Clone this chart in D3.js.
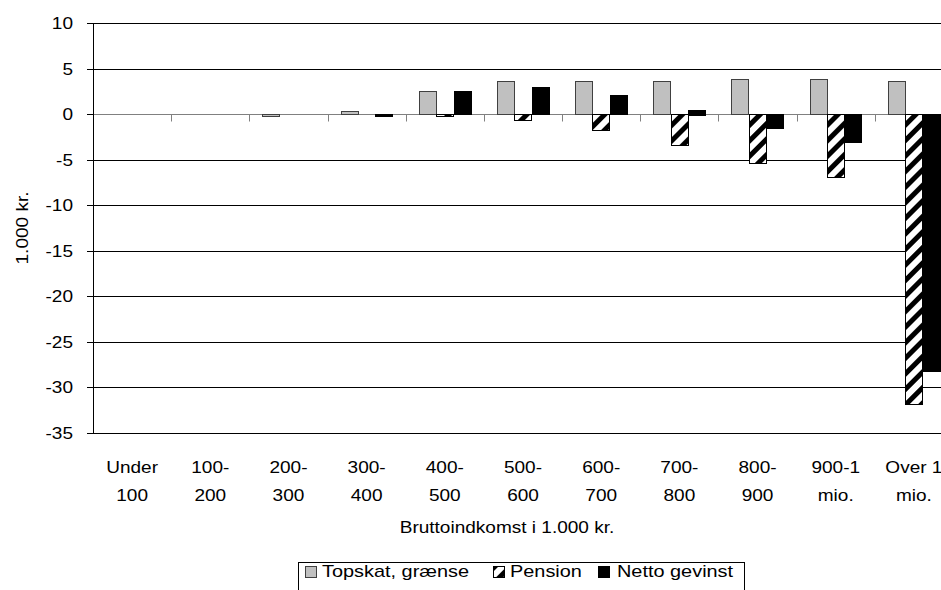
<!DOCTYPE html>
<html>
<head>
<meta charset="utf-8">
<script src="https://cdn.jsdelivr.net/npm/d3@7"></script>
<style>
  html, body { margin: 0; padding: 0; background: #fff; }
  svg { display: block; font-family: "Liberation Sans", Arial, sans-serif; }
</style>
</head>
<body>
<div id="graphicContainer"></div>
<script>
// categories (income brackets) and the two-line tick labels
var categories = ["Under 100", "100-200", "200-300", "300-400", "400-500", "500-600",
  "600-700", "700-800", "800-900", "900-1 mio.", "Over 1 mio."];
var tickLines = [["Under", "100"], ["100-", "200"], ["200-", "300"], ["300-", "400"],
  ["400-", "500"], ["500-", "600"], ["600-", "700"], ["700-", "800"], ["800-", "900"],
  ["900-1", "mio."], ["Over 1", "mio."]];

var seriesNames = ["Topskat, grænse", "Pension", "Netto gevinst"];
var topskat = [0, 0, -0.2, 0.3, 2.5, 3.6, 3.6, 3.6, 3.8, 3.8, 3.6];
var pension = [0, 0, 0, 0, -0.1, -0.7, -1.8, -3.4, -5.4, -6.9, -31.8];
var netto = [0, 0, 0, -0.2, 2.5, 3.0, 2.1, 0.5, -1.5, -3.1, -28.2];

var yTicks = [10, 5, 0, -5, -10, -15, -20, -25, -30, -35];

var width = 941, height = 590;
var margin = { top: 23, left: 93, plotRight: 953, bottom: 433 };
var fontSize = 17, stretch = 1.12; // the original text is drawn a bit wide

var svg = d3.select("#graphicContainer").append("svg")
  .attr("width", width).attr("height", height);

// text drawn horizontally stretched around its anchor point
function label(parent, x, y, str, anchor, rotate, sx) {
  return parent.append("text")
    .attr("transform", "translate(" + x + "," + y + ")" + (rotate ? " rotate(" + rotate + ")" : "") +
      " scale(" + (sx || stretch) + ",1)")
    .attr("text-anchor", anchor || "start")
    .attr("font-size", fontSize).attr("fill", "#000")
    .text(str);
}

var defs = svg.append("defs");
var pat = defs.append("pattern").attr("id", "stripes")
  .attr("patternUnits", "userSpaceOnUse")
  .attr("width", 11).attr("height", 11)
  .attr("patternTransform", "rotate(45)");
pat.append("rect").attr("width", 11).attr("height", 11).attr("fill", "#fff");
pat.append("rect").attr("width", 5).attr("height", 11).attr("fill", "#000");

var x = d3.scaleBand().domain(categories).range([margin.left, margin.plotRight])
  .paddingInner(0).paddingOuter(0);
var xs = d3.scaleBand().domain(seriesNames).range([0, x.bandwidth()])
  .paddingInner(0).paddingOuter(0.75);
var y = d3.scaleLinear().domain([-35, 10]).range([margin.bottom, margin.top]);

function crisp(v) { return Math.round(v) + 0.5; }

// gridlines
svg.append("g").selectAll("line").data(yTicks.filter(function (d) { return d !== 0; }))
  .enter().append("line")
  .attr("x1", margin.left).attr("x2", width)
  .attr("y1", function (d) { return crisp(y(d)); })
  .attr("y2", function (d) { return crisp(y(d)); })
  .attr("stroke", "#000").attr("stroke-width", 1);

// zero axis with tick marks between categories
var zeroY = crisp(y(0));
svg.append("line").attr("x1", margin.left).attr("x2", width)
  .attr("y1", zeroY).attr("y2", zeroY)
  .attr("stroke", "#808080").attr("stroke-width", 1);
svg.append("g").selectAll("line").data(categories.slice(1))
  .enter().append("line")
  .attr("x1", function (d) { return crisp(x(d)); })
  .attr("x2", function (d) { return crisp(x(d)); })
  .attr("y1", zeroY).attr("y2", zeroY + 7)
  .attr("stroke", "#808080").attr("stroke-width", 1);

// bars
var series = [
  { name: seriesNames[0], values: topskat, fill: "#c0c0c0", stroke: "#404040" },
  { name: seriesNames[1], values: pension, fill: "url(#stripes)", stroke: "#000" },
  { name: seriesNames[2], values: netto, fill: "#000", stroke: "#000" }
];

series.forEach(function (s) {
  svg.append("g").selectAll("rect")
    .data(s.values.map(function (v, i) { return { cat: categories[i], v: v }; })
      .filter(function (d) { return d.v !== 0; }))
    .enter().append("rect")
    .attr("x", function (d) { return Math.round(x(d.cat) + xs(s.name)) + 0.5; })
    .attr("width", Math.round(xs.bandwidth()))
    .attr("y", function (d) { return Math.round(y(Math.max(d.v, 0))) + 0.5; })
    .attr("height", function (d) { return Math.max(2, Math.round(Math.abs(y(d.v) - y(0)))); })
    .attr("fill", s.fill)
    .attr("stroke", s.stroke).attr("stroke-width", 1);
});

// y axis
svg.append("line").attr("x1", crisp(margin.left)).attr("x2", crisp(margin.left))
  .attr("y1", y(10)).attr("y2", y(-35) + 1)
  .attr("stroke", "#000");
var yg = svg.append("g");
yg.selectAll("line").data(yTicks).enter().append("line")
  .attr("x1", margin.left - 6).attr("x2", margin.left)
  .attr("y1", function (d) { return crisp(y(d)); })
  .attr("y2", function (d) { return crisp(y(d)); })
  .attr("stroke", "#000");
yTicks.forEach(function (d) {
  label(yg, 73, y(d) + 6, d, "end");
});

label(svg, 28, (y(10) + y(-35)) / 2, "1.000 kr.", "middle", -90);

// x labels
var xg = svg.append("g");
categories.forEach(function (c, i) {
  var cx = x(c) + x.bandwidth() / 2;
  label(xg, cx, 473, tickLines[i][0], "middle");
  label(xg, cx, 501, tickLines[i][1], "middle");
});

label(svg, 507, 533, "Bruttoindkomst i 1.000 kr.", "middle");

// legend
var legend = svg.append("g");
legend.append("rect").attr("x", 298.5).attr("y", 562.5).attr("width", 446).attr("height", 40)
  .attr("fill", "#fff").attr("stroke", "#000");
var legendKeyX = [305, 493, 598];
var legendTextX = [322, 510, 617];
series.forEach(function (s, i) {
  legend.append("rect").attr("x", legendKeyX[i] + 0.5).attr("y", 566.5)
    .attr("width", 11).attr("height", 11)
    .attr("fill", s.fill).attr("stroke", s.stroke);
  label(legend, legendTextX[i], 577, s.name, "start", null, 1.17);
});
</script>
</body>
</html>
